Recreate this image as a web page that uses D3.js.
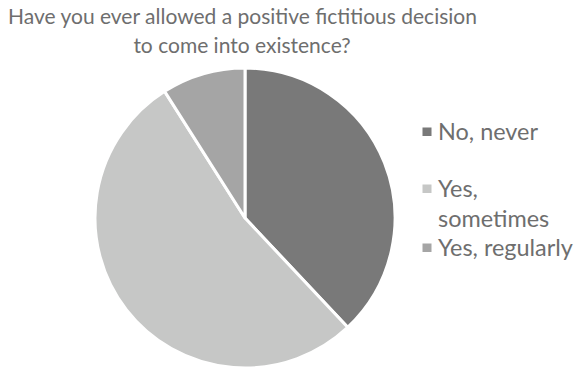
<!DOCTYPE html>
<html>
<head>
<meta charset="utf-8">
<script src="https://cdn.jsdelivr.net/npm/d3@7"></script>
<style>
  html, body { margin: 0; padding: 0; background: #fff; }
  svg { display: block; }
  text { font-family: Lato, "Open Sans", sans-serif; fill: #6e6e6e; }
</style>
</head>
<body>
<svg id="chart" width="577" height="369"></svg>
<script>
const titleLines = ["Have you ever allowed a positive fictitious decision", "to come into existence?"];
const categories = ["No, never", "Yes, sometimes", "Yes, regularly"];
const legendLines = [["No, never"], ["Yes,", "sometimes"], ["Yes, regularly"]];
const values = [38, 53, 9];
const colors = ["#797979", "#c6c7c6", "#a5a5a5"];

const svg = d3.select("#chart");
const cx = 245, cy = 218, r = 150;

const pie = d3.pie().sort(null).value(d => d)(values);
const arc = d3.arc().innerRadius(0).outerRadius(r);
const color = d3.scaleOrdinal().domain(categories).range(colors);

svg.append("g").attr("transform", `translate(${cx},${cy})`)
  .selectAll("path").data(pie).join("path")
  .attr("d", arc)
  .attr("fill", (d, i) => color(categories[i]))
  .attr("stroke", "#fff")
  .attr("stroke-width", 3)
  .attr("stroke-linejoin", "round");

// Title
const title = svg.append("g");
const t1 = title.append("text").attr("text-anchor", "middle").attr("x", 242.5).attr("y", 24)
  .style("font-size", "20px").text(titleLines[0]);
const w1 = t1.node().getComputedTextLength();
const tfs = 20 * 469 / w1;
t1.style("font-size", tfs + "px");
title.append("text").attr("text-anchor", "middle").attr("x", 242).attr("y", 53)
  .style("font-size", tfs + "px").text(titleLines[1]);

// Legend
const leg = svg.append("g");
const probe = leg.append("text").style("font-size", "20px").text("Yes, regularly");
const pw = probe.node().getComputedTextLength();
probe.remove();
const lfs = 20 * 135 / pw;
const baselines = [[140], [197, 226.5], [256]];
legendLines.forEach((lines, i) => {
  const b0 = baselines[i][0];
  leg.append("rect").attr("x", 422.5).attr("y", b0 - 12.5).attr("width", 9).attr("height", 8.5)
    .attr("fill", color(categories[i]));
  lines.forEach((ln, j) => {
    leg.append("text").attr("x", 438).attr("y", baselines[i][j])
      .style("font-size", lfs + "px").text(ln);
  });
});
</script>
</body>
</html>
